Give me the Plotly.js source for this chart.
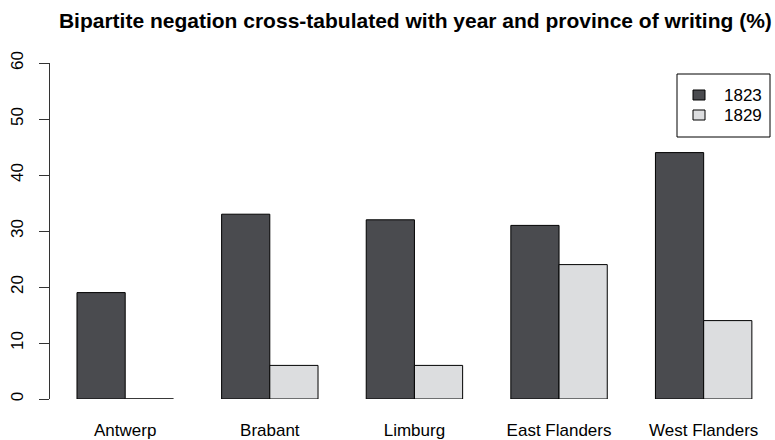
<!DOCTYPE html>
<html>
<head>
<meta charset="utf-8">
<script src="https://cdn.plot.ly/plotly-3.0.1.min.js"></script>
<style>html,body{margin:0;padding:0;background:#fff;}#chart{width:775px;height:440px;}</style>
</head>
<body>
<div id="chart"></div>
<script>
// Data
const provinces = ["Antwerp", "Brabant", "Limburg", "East Flanders", "West Flanders"];
const years = ["1823", "1829"];
const values1823 = [19, 33, 32, 31, 44];
const values1829 = [0, 6, 6, 24, 14];
const yTicks = [0, 10, 20, 30, 40, 50, 60];

const colors = ["#4a4b4f", "#dcdddf"];
const series = [values1823, values1829];
const offsets = [-1, 0];

// group centres like R barplot(beside=TRUE): bars of width 1, one unit gap between groups
const centers = provinces.map((p, i) => 2 + 3 * i);

const traces = series.map((vals, k) => ({
  type: "bar",
  name: years[k],
  x: centers,
  y: vals,
  offset: offsets[k],
  width: 1,
  marker: {color: colors[k], line: {color: "#000", width: 1}},
  cliponaxis: false,
  hoverinfo: "skip",
  showlegend: false
}));

// plot area geometry (pixels) used to place the R-style legend box
const M = {l: 50, r: 0, t: 63, b: 41};
const W = 775, H = 440;
const pw = W - M.l - M.r, ph = H - M.t - M.b;
const px = x => (x - M.l) / pw;
const py = y => (H - M.b - y) / ph;

const shapes = [];
// zero-height bars still show their outline in R
series.forEach((vals, k) => {
  vals.forEach((v, i) => {
    if (v === 0) {
      shapes.push({type: "line", xref: "x", yref: "y",
        x0: centers[i] + offsets[k], x1: centers[i] + offsets[k] + 1, y0: 0, y1: 0,
        line: {color: "#333", width: 1}});
    }
  });
});

// legend (R style box)
const annotations = [];
shapes.push({type: "rect", xref: "paper", yref: "paper",
  x0: px(677), x1: px(770), y0: py(137), y1: py(74),
  line: {color: "#000", width: 1}, fillcolor: "#fff", layer: "above"});
years.forEach((yr, k) => {
  const cy = 95 + 20 * k;
  shapes.push({type: "rect", xref: "paper", yref: "paper",
    x0: px(693), x1: px(705), y0: py(cy + 5), y1: py(cy - 5),
    line: {color: "#000", width: 1}, fillcolor: colors[k], layer: "above"});
  annotations.push({text: yr, xref: "paper", yref: "paper",
    x: px(722), y: py(cy), xanchor: "left", yanchor: "middle",
    showarrow: false, font: {size: 17, color: "#000"}});
});

const font = "Liberation Sans, Arial, Helvetica, sans-serif";

const layout = {
  width: W, height: H,
  margin: M,
  paper_bgcolor: "#fff", plot_bgcolor: "#fff",
  font: {family: font, size: 17, color: "#000"},
  title: {text: "<b>Bipartite negation cross-tabulated with year and province of writing (%)</b>",
          font: {family: font, size: 21, color: "#000"},
          x: 0.536, xanchor: "center", xref: "container",
          y: 0.952, yanchor: "middle", yref: "container"},
  barmode: "overlay",
  showlegend: false,
  xaxis: {type: "linear", range: [0.44, 15.48], tickvals: centers, ticktext: provinces,
          showline: false, ticks: "", showgrid: false, zeroline: false,
          ticklabelstandoff: 19,
          tickfont: {size: 17}, fixedrange: true},
  yaxis: {range: [0, 60], tickvals: yTicks, ticktext: yTicks.map(String),
          showline: true, linecolor: "#333", linewidth: 1,
          ticks: "outside", ticklen: 10, tickcolor: "#333", tickwidth: 1,
          tickangle: -90, showgrid: false, zeroline: false,
          ticklabelstandoff: 9,
          tickfont: {size: 17}, fixedrange: true},
  shapes: shapes,
  annotations: annotations
};

Plotly.newPlot("chart", traces, layout, {displayModeBar: false, staticPlot: true});
</script>
</body>
</html>
